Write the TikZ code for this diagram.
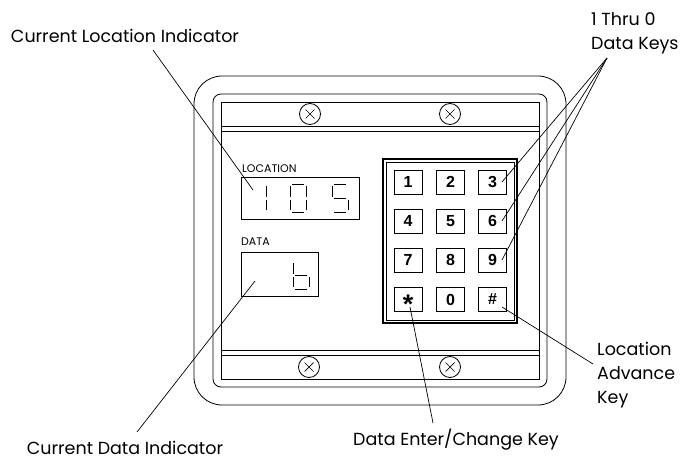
\documentclass[tikz,border=0pt]{standalone}
\usepackage{fontspec}
\setmainfont{Poppins}
\newfontfamily\keyfont{Liberation Sans}
\newcommand\sgA{\draw[seg] (2,0)--(14,0);}
\newcommand\sgB{\draw[seg] (16,2)--(16,12.5);}
\newcommand\sgC{\draw[seg] (16,15.5)--(16,26);}
\newcommand\sgD{\draw[seg] (2,28)--(14,28);}
\newcommand\sgE{\draw[seg] (0,15.5)--(0,26);}
\newcommand\sgF{\draw[seg] (0,2)--(0,12.5);}
\newcommand\sgG{\draw[seg] (2,14)--(14,14);}
\newcommand\segdigit[2]{\begin{scope}[shift={(#1)}]#2\end{scope}}
\begin{document}
\begin{tikzpicture}[x=1pt,y=-1pt,
  frame/.style={draw=black, line width=0.8pt},
  leader/.style={draw=black, line width=0.7pt},
  lbl/.style={font=\fontsize{17.5}{24}\selectfont, inner sep=0pt},
  key/.style={draw=black, line width=1pt, minimum width=28pt, minimum height=24pt, inner sep=0pt, font=\keyfont\bfseries\fontsize{16}{16}\selectfont},
  seg/.style={line width=0.9pt},
  small/.style={font=\fontsize{11}{11}\selectfont, inner sep=0pt, anchor=base west},
  screw/.style={draw, circle, minimum size=21pt, inner sep=0pt, line width=0.8pt,
    path picture={\draw[line width=0.7pt]
      ([shift={(-4.5pt,-4.5pt)}]path picture bounding box.center) -- ([shift={(4.5pt,4.5pt)}]path picture bounding box.center)
      ([shift={(-4.5pt,4.5pt)}]path picture bounding box.center) -- ([shift={(4.5pt,-4.5pt)}]path picture bounding box.center);}}
]
\useasboundingbox (0,0) rectangle (683,460);

% housing
\draw[frame, rounded corners=28pt] (194,76) rectangle (566,405);
\draw[frame, rounded corners=8pt] (213,94) rectangle (547,387);
\draw[frame] (221,102) rectangle (539,379);
\draw[frame] (221,126) -- (539,126) (221,131) -- (539,131);
\draw[frame] (221,350) -- (539,350) (221,355) -- (539,355);

% screws
\node[screw] (s1) at (310,114) {};
\node[screw] (s2) at (450,114) {};
\node[screw] (s3) at (309,367) {};
\node[screw] (s4) at (450,367) {};

% displays
\node[small] (loclbl) at (242,172) {LOCATION};
\draw[frame] (241,177) rectangle (359,219);
\node[small] (datalbl) at (241,245) {DATA};
\draw[frame] (241,252) rectangle (318,296);
\segdigit{250,184}{\sgB\sgC}
\segdigit{290,184}{\sgA\sgB\sgC\sgD\sgE\sgF}
\segdigit{332,184}{\sgA\sgF\sgG\sgC\sgD}
\segdigit{293,261}{\sgF\sgE\sgG\sgC\sgD}

% keypad
\draw[line width=1.3pt] (383,159) rectangle (517,323);
\draw[line width=0.7pt] (386,162) rectangle (514,320);
\node[key] (k1) at (408,182) {1};
\node[key] (k2) at (450.5,182) {2};
\node[key] (k3) at (492.5,182) {3};
\node[key] (k4) at (408,221) {4};
\node[key] (k5) at (450.5,221) {5};
\node[key] (k6) at (492.5,221) {6};
\node[key] (k7) at (408,260) {7};
\node[key] (k8) at (450.5,260) {8};
\node[key] (k9) at (492.5,260) {9};
\node[key] (kstar) at (408,299.5) {\fontsize{27}{27}\selectfont\smash{\raisebox{-13.5pt}{*}}};
\node[key] (k0) at (450.5,299.5) {0};
\node[key] (khash) at (492.5,299.5) {\#};

% labels
\node[lbl, anchor=base] (cli) at (125,43) {Current Location Indicator};
\node[lbl, anchor=base] (cdi) at (125,454) {Current Data Indicator};
\node[lbl, anchor=base] (dec) at (456,445) {Data Enter/Change Key};
\node[lbl, align=left, anchor=west] (lak) at (597,375) {Location\\Advance\\Key};
\node[lbl, align=left, anchor=west] (dk) at (591,33) {1 Thru 0\\Data Keys};

% leader end points
\coordinate (cliS) at (153,50);   \coordinate (cliE) at (253,190);
\coordinate (cdiS) at (137,432);  \coordinate (cdiE) at (255,281);
\coordinate (decS) at (433,423);  \coordinate (decE) at (410,307);
\coordinate (lakS) at (593,364);  \coordinate (lakE) at (502,307);
\coordinate (dkS) at (607,58);
\coordinate (d3) at (502,182); \coordinate (d6) at (502,221); \coordinate (d9) at (502,260);

\draw[leader] (cliS) -- (cliE);
\draw[leader] (cdiS) -- (cdiE);
\draw[leader] (decS) -- (decE);
\draw[leader] (lakS) -- (lakE);
\draw[leader] (dkS) -- (d3);
\draw[leader] (dkS) -- (d6);
\draw[leader] (dkS) -- (d9);
\end{tikzpicture}
\end{document}
